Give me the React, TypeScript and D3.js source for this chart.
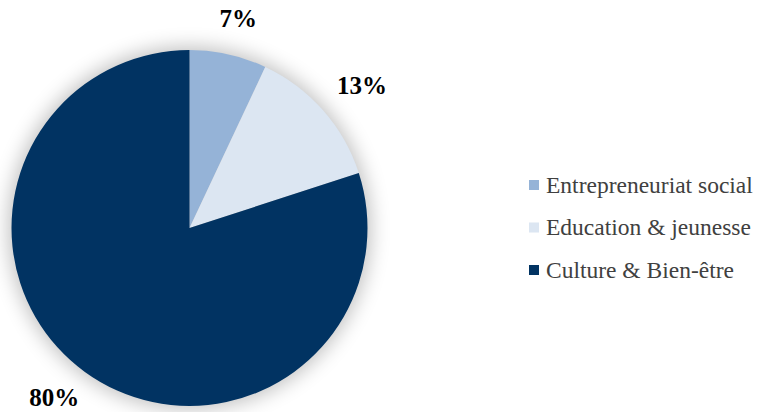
import React from "react";
import * as d3 from "d3";

const categories = ["Entrepreneuriat social", "Education & jeunesse", "Culture & Bien-être"];
const values = [7, 13, 80];
const labels = ["7%", "13%", "80%"];
const colors = ["#95B3D7", "#DCE6F2", "#013362"];

const W = 761;
const H = 412;
const cx = 189.5;
const cy = 228;
const R = 178;
const labelSize = 25;
const legendSize = 23.5;

export default function App() {
  const pie = d3.pie<number>().sort(null).startAngle(0).endAngle(2 * Math.PI);
  const arcs = pie(values);
  const arcGen = d3.arc<d3.PieArcDatum<number>>().innerRadius(0).outerRadius(R);
  const anchorArc = d3.arc<d3.PieArcDatum<number>>().innerRadius(R + 27).outerRadius(R + 27);

  const legendY = d3.scalePoint<string>().domain(categories).range([185, 270]);

  return (
    <svg
      width={W}
      height={H}
      style={{ position: "absolute", left: 0, top: 0, background: "#fff" }}
    >
      <defs>
        <filter id="glow" x="-30%" y="-30%" width="160%" height="160%">
          <feGaussianBlur stdDeviation="10" />
        </filter>
      </defs>
      <circle cx={cx} cy={cy} r={R + 3} fill="#000" opacity={0.25} filter="url(#glow)" />
      <g transform={`translate(${cx},${cy})`}>
        {arcs.map((a, i) => (
          <path key={i} d={arcGen(a) as string} fill={colors[i]} />
        ))}
      </g>
      {arcs.map((a, i) => {
        const [px, py] = anchorArc.centroid(a);
        const mid = (a.startAngle + a.endAngle) / 2;
        const w = labels[i].length * labelSize * 0.5 + 0.5 * labelSize;
        const h = labelSize * 0.8;
        const x = cx + px + Math.sin(mid) * w / 2;
        const yc = cy + py - Math.cos(mid) * h / 2;
        const y = Math.min(yc + labelSize * 0.34, H - 6);
        return (
          <text
            key={"l" + i}
            x={x}
            y={y}
            textAnchor="middle"
            fontFamily="'Liberation Serif', 'Times New Roman', serif"
            fontWeight="bold"
            fontSize={labelSize}
            fill="#000"
          >
            {labels[i]}
          </text>
        );
      })}
      {categories.map((c, i) => {
        const y = legendY(c) as number;
        return (
          <g key={c}>
            <rect x={529} y={y - 5} width={10} height={10} fill={colors[i]} />
            <text
              x={546}
              y={y + legendSize * 0.33}
              fontFamily="'Liberation Serif', 'Times New Roman', serif"
              fontSize={legendSize}
              fill="#404040"
            >
              {c}
            </text>
          </g>
        );
      })}
    </svg>
  );
}
